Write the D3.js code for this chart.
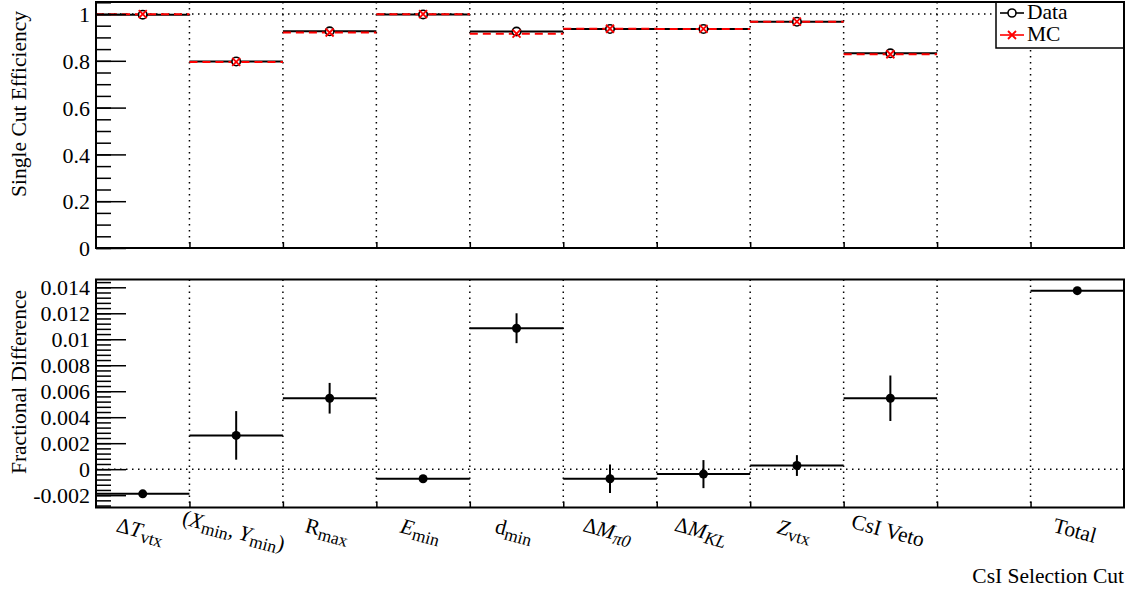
<!DOCTYPE html>
<html>
<head>
<meta charset="utf-8">
<script src="https://cdn.jsdelivr.net/npm/d3@7"></script>
<style>
  html, body { margin: 0; padding: 0; background: #fff; }
  svg { display: block; }
  svg text { font-family: "Liberation Serif", "Times New Roman", serif !important; fill: #000; }
</style>
</head>
<body>
<svg id="chart" width="1133" height="592"></svg>
<script>
// ---------------- data ----------------
const categories = ["Δ*T*_{vtx}", "(*X*_{min}, *Y*_{min})", "R_{max}", "*E*_{min}", "d_{min}",
                    "Δ*M*_{*π0*}", "Δ*M*_{*KL*}", "*Z*_{vtx}", "CsI Veto", "", "Total"];
const dataEff = [0.997, 0.797, 0.926, 0.998, 0.925, 0.936, 0.936, 0.967, 0.832, null, null];
const mcEff   = [0.999, 0.795, 0.921, 0.999, 0.916, 0.937, 0.936, 0.967, 0.828, null, null];
const fracDiff = [-0.0019, 0.0026, 0.00546, -0.00074, 0.01085, -0.00074, -0.00038, 0.00028, 0.00546, null, 0.01374];
const fracErr  = [0.0001, 0.00187, 0.00118, 0.0001, 0.00115, 0.0011, 0.00108, 0.0008, 0.00175, null, 0.0001];
const topTickValues = [0, 0.2, 0.4, 0.6, 0.8, 1];
const topTickLabels = ["0", "0.2", "0.4", "0.6", "0.8", "1"];
const botTickValues = [-0.002, 0, 0.002, 0.004, 0.006, 0.008, 0.01, 0.012, 0.014];
const botTickLabels = ["-0.002", "0", "0.002", "0.004", "0.006", "0.008", "0.01", "0.012", "0.014"];
const legendLabels = ["Data", "MC"];
const yTitleTop = "Single Cut Efficiency";
const yTitleBot = "Fractional Difference";
const xTitle = "CsI Selection Cut";

// ---------------- layout ----------------
const svg = d3.select("#chart");
const L = 96, R = 1124;
const T1 = 2, B1 = 248, T2 = 279.5, B2 = 507.5;
const FS = 21.5;
const TFS = 22;
const SERIF = '"Liberation Serif", "Times New Roman", serif';
const RED = "#ff0000";

const x = d3.scaleLinear().domain([0, categories.length]).range([L, R]);
const yTop = d3.scaleLinear().domain([0, 1.0513]).range([B1, T1]);
const yBot = d3.scaleLinear().domain([-0.00295, 0.0146]).range([B2, T2]);
const idx = d3.range(categories.length);

function panelGrid(g, yScale, T, B, refVal) {
  g.selectAll(".vg").data(d3.range(1, categories.length)).join("line")
    .attr("x1", d => x(d)).attr("x2", d => x(d)).attr("y1", T).attr("y2", B)
    .attr("stroke", "#000").attr("stroke-width", 1.5).attr("stroke-dasharray", "1.5,4.5");
  g.append("line").attr("x1", L).attr("x2", R).attr("y1", yScale(refVal)).attr("y2", yScale(refVal))
    .attr("stroke", "#000").attr("stroke-width", 1.5).attr("stroke-dasharray", "1.5,4.5");
}

function panelAxes(g, yScale, T, B, tickVals, tickLabels, minorVals) {
  g.append("g").attr("transform", `translate(${L},0)`)
    .call(d3.axisLeft(yScale).tickValues(minorVals).tickSize(-15).tickFormat(""))
    .call(s => s.select(".domain").remove())
    .call(s => s.selectAll("line").attr("stroke-width", 1.5));
  g.append("g").attr("transform", `translate(${L},0)`)
    .attr("font-family", SERIF)
    .call(d3.axisLeft(yScale).tickValues(tickVals).tickSize(-30).tickPadding(6)
      .tickFormat((d, i) => tickLabels[i]))
    .call(s => s.select(".domain").remove())
    .call(s => s.selectAll("line").attr("stroke-width", 1.5))
    .call(s => s.selectAll("text").attr("font-size", TFS)
      .style("font-family", SERIF).attr("dy", "0.35em"));
  g.append("g").attr("transform", `translate(0,${B})`)
    .call(d3.axisBottom(x).tickValues(d3.range(1, categories.length)).tickSize(-6).tickFormat(""))
    .call(s => s.select(".domain").remove())
    .call(s => s.selectAll("line").attr("stroke-width", 1.5));
}

// ---------------- top panel ----------------
const topG = svg.append("g");
panelGrid(topG, yTop, T1, B1, 1);

const topIdx = idx.filter(i => dataEff[i] != null);
topG.selectAll(".dl").data(topIdx).join("line")
  .attr("x1", i => x(i)).attr("x2", i => x(i + 1))
  .attr("y1", i => yTop(dataEff[i])).attr("y2", i => yTop(dataEff[i]))
  .attr("stroke", "#000").attr("stroke-width", 2);
topG.selectAll(".ml").data(topIdx).join("line")
  .attr("x1", i => x(i)).attr("x2", i => x(i + 1))
  .attr("y1", i => yTop(mcEff[i])).attr("y2", i => yTop(mcEff[i]))
  .attr("stroke", RED).attr("stroke-width", 2).attr("stroke-dasharray", "8,5");
topG.selectAll(".dc").data(topIdx).join("circle")
  .attr("cx", i => x(i + 0.5)).attr("cy", i => yTop(dataEff[i])).attr("r", 4.2)
  .attr("fill", "#fff").attr("stroke", "#000").attr("stroke-width", 1.6);
const xm = 4;
topG.selectAll(".mx").data(topIdx).join("path")
  .attr("d", i => {
    const cx = x(i + 0.5), cy = yTop(mcEff[i]);
    return `M${cx - xm},${cy - xm}L${cx + xm},${cy + xm}M${cx - xm},${cy + xm}L${cx + xm},${cy - xm}`;
  })
  .attr("stroke", RED).attr("stroke-width", 1.8).attr("fill", "none");

panelAxes(topG, yTop, T1, B1, topTickValues, topTickLabels, d3.range(0, 1.051, 0.05));

// legend
const lg = topG.append("g");
lg.append("rect").attr("x", 996).attr("y", T1).attr("width", R - 996).attr("height", 46)
  .attr("fill", "#fff").attr("stroke", "#000").attr("stroke-width", 1.5);
const legY = [13, 35];
lg.append("line").attr("x1", 1000).attr("x2", 1024).attr("y1", legY[0]).attr("y2", legY[0])
  .attr("stroke", "#000").attr("stroke-width", 1.6);
lg.append("circle").attr("cx", 1012).attr("cy", legY[0]).attr("r", 4)
  .attr("fill", "#fff").attr("stroke", "#000").attr("stroke-width", 1.6);
lg.append("line").attr("x1", 1000).attr("x2", 1024).attr("y1", legY[1]).attr("y2", legY[1])
  .attr("stroke", RED).attr("stroke-width", 1.6);
lg.append("path")
  .attr("d", `M${1012 - xm},${legY[1] - xm}L${1012 + xm},${legY[1] + xm}M${1012 - xm},${legY[1] + xm}L${1012 + xm},${legY[1] - xm}`)
  .attr("stroke", RED).attr("stroke-width", 1.8);
lg.selectAll("text.lt").data(legendLabels).join("text")
  .attr("x", 1027).attr("y", (d, i) => legY[i] + 6).attr("font-size", FS).text(d => d);

topG.append("rect").attr("x", L).attr("y", T1).attr("width", R - L).attr("height", B1 - T1)
  .attr("fill", "none").attr("stroke", "#000").attr("stroke-width", 2);

// ---------------- bottom panel ----------------
const botG = svg.append("g");
panelGrid(botG, yBot, T2, B2, 0);
const botIdx = idx.filter(i => fracDiff[i] != null);
botG.selectAll(".hl").data(botIdx).join("line")
  .attr("x1", i => x(i)).attr("x2", i => x(i + 1))
  .attr("y1", i => yBot(fracDiff[i])).attr("y2", i => yBot(fracDiff[i]))
  .attr("stroke", "#000").attr("stroke-width", 2);
botG.selectAll(".el").data(botIdx).join("line")
  .attr("x1", i => x(i + 0.5)).attr("x2", i => x(i + 0.5))
  .attr("y1", i => yBot(fracDiff[i] - fracErr[i])).attr("y2", i => yBot(fracDiff[i] + fracErr[i]))
  .attr("stroke", "#000").attr("stroke-width", 2);
botG.selectAll(".pt").data(botIdx).join("circle")
  .attr("cx", i => x(i + 0.5)).attr("cy", i => yBot(fracDiff[i])).attr("r", 4.5).attr("fill", "#000");

panelAxes(botG, yBot, T2, B2, botTickValues, botTickLabels, d3.range(-0.0028, 0.01441, 0.0004));
botG.append("rect").attr("x", L).attr("y", T2).attr("width", R - L).attr("height", B2 - T2)
  .attr("fill", "none").attr("stroke", "#000").attr("stroke-width", 2);

// ---------------- x labels ----------------
function richText(sel, str) {
  const parts = str.split(/(_\{[^}]*\})/).filter(p => p.length);
  let shifted = false;
  const SH = 4;
  parts.forEach(p => {
    let sub = false, s = p;
    if (p.startsWith("_{")) { sub = true; s = p.slice(2, -1); }
    const pieces = s.split("*");
    pieces.forEach((piece, k) => {
      if (!piece.length) return;
      const t = sel.append("tspan").text(piece)
        .attr("font-style", k % 2 === 1 ? "italic" : "normal");
      if (sub) {
        t.attr("font-size", FS * 0.82);
        if (!shifted) { t.attr("dy", SH); shifted = true; }
      } else {
        if (shifted) { t.attr("dy", -SH); shifted = false; }
      }
    });
  });
}
const xl = svg.append("g");
idx.forEach(i => {
  if (!categories[i]) return;
  const g = xl.append("g").attr("transform", `translate(${x(i + 0.5)},522) rotate(15)`);
  const t = g.append("text").attr("text-anchor", "middle").attr("y", 16).attr("font-size", FS);
  richText(t, categories[i]);
});

// ---------------- titles ----------------
svg.append("text").attr("transform", "translate(26,11) rotate(-90)")
  .attr("text-anchor", "end").attr("font-size", FS).text(yTitleTop);
svg.append("text").attr("transform", "translate(26,290) rotate(-90)")
  .attr("text-anchor", "end").attr("font-size", FS).text(yTitleBot);
svg.append("text").attr("x", R).attr("y", 583).attr("text-anchor", "end")
  .attr("font-size", FS).text(xTitle);
</script>
</body>
</html>
